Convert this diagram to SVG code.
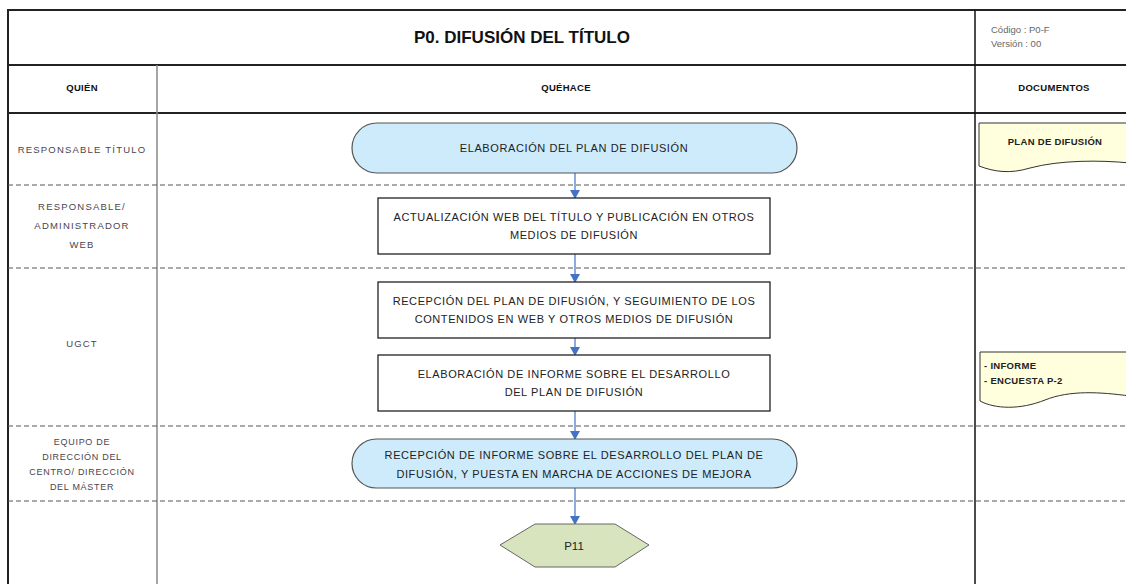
<svg xmlns="http://www.w3.org/2000/svg" width="1126" height="584" viewBox="0 0 1126 584">
<defs>
<marker id="ah" markerWidth="10" markerHeight="10" refX="8" refY="5" orient="auto" markerUnits="userSpaceOnUse">
<path d="M0,0 L9,5 L0,10 Z" fill="#4472C4"/>
</marker>
<style>
.frame{stroke:#222;stroke-width:2;fill:none}
.thin{stroke:#888;stroke-width:1.5;fill:none}
.dash{stroke:#555;stroke-width:1;stroke-dasharray:5,3;fill:none}
.term{fill:#CDEBFB;stroke:#555;stroke-width:1.2}
.box{fill:#fff;stroke:#222;stroke-width:1.3}
.doc{fill:#FFFFDD;stroke:#333;stroke-width:1}
.hex{fill:#D7E4BD;stroke:#666;stroke-width:1}
.conn{stroke:#4472C4;stroke-width:1.2;fill:none;marker-end:url(#ah)}
text{font-family:"Liberation Sans","DejaVu Sans",sans-serif}
.t{font-size:11px;fill:#222;text-anchor:middle;letter-spacing:0.6px}
.lane{font-size:9.5px;fill:#4a4450;text-anchor:middle;letter-spacing:1.2px}
.lane2{font-size:9px;fill:#4a4450;text-anchor:middle;letter-spacing:0.7px}
.hdr{font-size:9.5px;font-weight:bold;fill:#111;text-anchor:middle;letter-spacing:0.3px}
.dt{font-size:9.5px;font-weight:bold;fill:#222;letter-spacing:0.3px}
</style>
</defs>
<rect width="1126" height="584" fill="#fff"/>
<g id="grid">
<line class="frame" x1="8" y1="10" x2="1126" y2="10"/>
<line class="frame" x1="8" y1="65" x2="1126" y2="65"/>
<line class="frame" x1="8" y1="113" x2="1126" y2="113"/>
<line class="frame" x1="8" y1="9" x2="8" y2="584"/>
<line class="thin" x1="157" y1="65" x2="157" y2="584"/>
<line x1="975" y1="10" x2="975" y2="584" stroke="#111" stroke-width="1.5"/>
<line class="dash" x1="8" y1="185" x2="1126" y2="185"/>
<line class="dash" x1="8" y1="268" x2="1126" y2="268"/>
<line class="dash" x1="8" y1="426" x2="1126" y2="426"/>
<line class="dash" x1="8" y1="501" x2="1126" y2="501"/>
</g>
<g id="header">
<text x="522" y="43" text-anchor="middle" font-size="17" font-weight="bold" fill="#111">P0. DIFUSIÓN DEL TÍTULO</text>
<text x="991" y="33" font-size="9.5" fill="#666">Código : P0-F</text>
<text x="991" y="47" font-size="9.5" fill="#666">Versión : 00</text>
<text class="hdr" x="82" y="91">QUIÉN</text>
<text class="hdr" x="566" y="91">QUÉHACE</text>
<text class="hdr" x="1054" y="91">DOCUMENTOS</text>
</g>
<g id="lanes">
<text class="lane" x="82" y="153">RESPONSABLE TÍTULO</text>
<text class="lane" x="82" y="210">RESPONSABLE/</text>
<text class="lane" x="82" y="229">ADMINISTRADOR</text>
<text class="lane" x="82" y="248">WEB</text>
<text class="lane" x="82" y="347">UGCT</text>
<text class="lane2" x="82" y="445">EQUIPO DE</text>
<text class="lane2" x="82" y="460">DIRECCIÓN DEL</text>
<text class="lane2" x="82" y="475">CENTRO/ DIRECCIÓN</text>
<text class="lane2" x="82" y="490">DEL MÁSTER</text>
</g>
<g id="connectors">
<line class="conn" x1="575" y1="173" x2="575" y2="198"/>
<line class="conn" x1="575" y1="254" x2="575" y2="282"/>
<line class="conn" x1="575" y1="338" x2="575" y2="355"/>
<line class="conn" x1="575" y1="411" x2="575" y2="439"/>
<line class="conn" x1="575" y1="488" x2="575" y2="524"/>
</g>
<g id="n1">
<rect class="term" x="352" y="123" width="445" height="50" rx="25"/>
<text class="t" x="574" y="152">ELABORACIÓN DEL PLAN DE DIFUSIÓN</text>
</g>
<g id="n2">
<rect class="box" x="378" y="198" width="392" height="56"/>
<text class="t" x="574" y="221">ACTUALIZACIÓN WEB DEL TÍTULO Y PUBLICACIÓN EN OTROS</text>
<text class="t" x="574" y="239">MEDIOS DE DIFUSIÓN</text>
</g>
<g id="n3">
<rect class="box" x="378" y="282" width="392" height="56"/>
<text class="t" x="574" y="305">RECEPCIÓN DEL PLAN DE DIFUSIÓN, Y SEGUIMIENTO DE LOS</text>
<text class="t" x="574" y="323">CONTENIDOS EN  WEB Y OTROS MEDIOS DE DIFUSIÓN</text>
</g>
<g id="n4">
<rect class="box" x="378" y="355" width="392" height="56"/>
<text class="t" x="574" y="378">ELABORACIÓN DE INFORME SOBRE EL DESARROLLO</text>
<text class="t" x="574" y="396">DEL PLAN DE DIFUSIÓN</text>
</g>
<g id="n5">
<rect class="term" x="352" y="439" width="445" height="49" rx="24.5"/>
<text class="t" x="574" y="459">RECEPCIÓN DE INFORME SOBRE EL DESARROLLO DEL PLAN DE</text>
<text class="t" x="574" y="478">DIFUSIÓN, Y PUESTA EN MARCHA DE ACCIONES DE MEJORA</text>
</g>
<g id="n6">
<polygon class="hex" points="500,545 535,524 615,524 649,545 615,567 535,567"/>
<text x="574" y="550" text-anchor="middle" font-size="11.5" fill="#222">P11</text>
</g>
<g id="d1">
<path class="doc" d="M979,123 L1130,123 L1130,163 C1100,160 1060,160 1030,168 C1010,174 995,172 979,166 Z"/>
<text class="dt" x="1055" y="145" text-anchor="middle">PLAN DE DIFUSIÓN</text>
</g>
<g id="d2">
<path class="doc" d="M980,352 L1130,352 L1130,396 C1100,392 1070,390 1045,400 C1020,410 995,409 980,401 Z"/>
<text class="dt" x="984" y="369">- INFORME</text>
<text class="dt" x="984" y="384">- ENCUESTA P-2</text>
</g>
</svg>
